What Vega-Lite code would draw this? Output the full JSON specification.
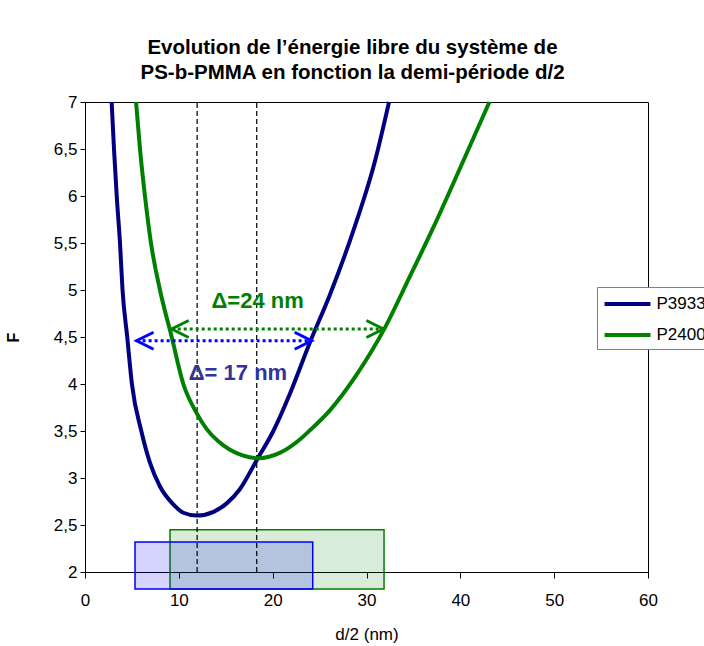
{
  "$schema": "https://vega.github.io/schema/vega-lite/v6.json",
  "width": 563,
  "height": 470,
  "autosize": {"type": "none"},
  "padding": {"left": 85, "top": 102, "right": 56, "bottom": 74},
  "background": "white",
  "title": {
    "text": ["Evolution de l’énergie libre du système de", "PS-b-PMMA en fonction la demi-période d/2"],
    "font": "Liberation Sans",
    "fontSize": 20.5,
    "fontWeight": "bold",
    "color": "#000000",
    "anchor": "middle",
    "frame": "group",
    "dx": -14,
    "offset": 10,
    "lineHeight": 25
  },
  "config": {
    "view": {"stroke": "#000000", "strokeWidth": 1},
    "axis": {
      "grid": false,
      "domainColor": "#000000",
      "tickColor": "#000000",
      "labelColor": "#000000",
      "titleColor": "#000000",
      "labelFont": "Liberation Sans",
      "titleFont": "Liberation Sans",
      "labelFontSize": 17,
      "labelFlush": false,
      "labelOverlap": false
    }
  },
  "datasets": {
    "curves": [
      {"series": "P3933", "x": 2.84, "y": 7.0},
      {"series": "P3933", "x": 3.09, "y": 6.5},
      {"series": "P3933", "x": 3.38, "y": 6.0},
      {"series": "P3933", "x": 3.73, "y": 5.5},
      {"series": "P3933", "x": 4.0, "y": 5.0},
      {"series": "P3933", "x": 4.5, "y": 4.5},
      {"series": "P3933", "x": 5.0, "y": 4.0},
      {"series": "P3933", "x": 6.0, "y": 3.5},
      {"series": "P3933", "x": 6.93, "y": 3.16},
      {"series": "P3933", "x": 7.99, "y": 2.91},
      {"series": "P3933", "x": 9.41, "y": 2.72},
      {"series": "P3933", "x": 10.48, "y": 2.63},
      {"series": "P3933", "x": 11.9, "y": 2.6},
      {"series": "P3933", "x": 13.7, "y": 2.64},
      {"series": "P3933", "x": 15.1, "y": 2.73},
      {"series": "P3933", "x": 16.5, "y": 2.88},
      {"series": "P3933", "x": 18.3, "y": 3.19},
      {"series": "P3933", "x": 20.07, "y": 3.5},
      {"series": "P3933", "x": 21.85, "y": 3.9},
      {"series": "P3933", "x": 24.0, "y": 4.45},
      {"series": "P3933", "x": 26.1, "y": 4.95},
      {"series": "P3933", "x": 28.7, "y": 5.66},
      {"series": "P3933", "x": 30.9, "y": 6.37},
      {"series": "P3933", "x": 32.4, "y": 7.0},
      {"series": "P2400", "x": 5.44, "y": 7.0},
      {"series": "P2400", "x": 5.86, "y": 6.5},
      {"series": "P2400", "x": 6.39, "y": 6.0},
      {"series": "P2400", "x": 7.03, "y": 5.5},
      {"series": "P2400", "x": 7.99, "y": 5.0},
      {"series": "P2400", "x": 9.24, "y": 4.5},
      {"series": "P2400", "x": 10.48, "y": 4.0},
      {"series": "P2400", "x": 11.9, "y": 3.69},
      {"series": "P2400", "x": 12.97, "y": 3.52},
      {"series": "P2400", "x": 14.2, "y": 3.39},
      {"series": "P2400", "x": 15.45, "y": 3.3},
      {"series": "P2400", "x": 16.8, "y": 3.24},
      {"series": "P2400", "x": 18.5, "y": 3.21},
      {"series": "P2400", "x": 20.8, "y": 3.27},
      {"series": "P2400", "x": 22.9, "y": 3.41},
      {"series": "P2400", "x": 24.0, "y": 3.51},
      {"series": "P2400", "x": 26.1, "y": 3.72},
      {"series": "P2400", "x": 28.95, "y": 4.1},
      {"series": "P2400", "x": 31.97, "y": 4.6},
      {"series": "P2400", "x": 34.46, "y": 5.11},
      {"series": "P2400", "x": 37.1, "y": 5.66},
      {"series": "P2400", "x": 40.3, "y": 6.37},
      {"series": "P2400", "x": 43.1, "y": 7.0}
    ],
    "rects": [
      {"series": "P2400", "x": 9.06, "x2": 31.87, "y": 2.45, "y2": 1.82},
      {"series": "P3933", "x": 5.33, "x2": 24.27, "y": 2.32, "y2": 1.82}
    ],
    "vlines": [
      {"x": 11.95, "y": 2, "y2": 7},
      {"x": 18.3, "y": 2, "y2": 7}
    ],
    "arrows": [
      {"series": "P2400", "x": 9.24, "x2": 31.8, "y": 4.585},
      {"series": "P3933", "x": 5.5, "x2": 24.15, "y": 4.46}
    ],
    "heads": [
      {"series": "P2400", "side": "left", "x": 9.24, "y": 4.585},
      {"series": "P2400", "side": "right", "x": 31.8, "y": 4.585},
      {"series": "P3933", "side": "left", "x": 5.5, "y": 4.46},
      {"series": "P3933", "side": "right", "x": 24.15, "y": 4.46}
    ],
    "labels": [
      {"series": "P2400", "x": 18.4, "y": 4.88, "label": "Δ=24 nm"},
      {"series": "P3933", "x": 16.3, "y": 4.12, "label": "Δ= 17 nm"}
    ]
  },
  "encoding": {
    "x": {
      "field": "x",
      "type": "quantitative",
      "scale": {"domain": [0, 60], "nice": false, "zero": false},
      "axis": {
        "values": [0, 10, 20, 30, 40, 50, 60],
        "tickSize": 6,
        "labelPadding": 14,
        "title": "d/2 (nm)",
        "titleFontSize": 17,
        "titleFontWeight": "normal",
        "titlePadding": 18
      }
    },
    "y": {
      "field": "y",
      "type": "quantitative",
      "scale": {"domain": [2, 7], "nice": false, "zero": false},
      "axis": {
        "values": [2, 2.5, 3, 3.5, 4, 4.5, 5, 5.5, 6, 6.5, 7],
        "tickSize": 5,
        "labelPadding": 3,
        "labelExpr": "replace(format(datum.value, '~g'), '.', ',')",
        "title": "F",
        "titleFontSize": 16,
        "titleFontWeight": "bold",
        "titlePadding": 32
      }
    }
  },
  "layer": [
    {
      "data": {"name": "rects"},
      "transform": [{"filter": "datum.series === 'P2400'"}],
      "mark": {"type": "rect", "fill": "#008000", "fillOpacity": 0.15, "stroke": "#008000", "strokeWidth": 1.5},
      "encoding": {"x2": {"field": "x2"}, "y2": {"field": "y2"}}
    },
    {
      "data": {"name": "rects"},
      "transform": [{"filter": "datum.series === 'P3933'"}],
      "mark": {"type": "rect", "fill": "#0000FF", "fillOpacity": 0.17, "stroke": "#0000FF", "strokeWidth": 1.5},
      "encoding": {"x2": {"field": "x2"}, "y2": {"field": "y2"}}
    },
    {
      "data": {"name": "vlines"},
      "mark": {"type": "rule", "color": "#000000", "strokeWidth": 1.2, "strokeDash": [5, 3]},
      "encoding": {"y2": {"field": "y2"}}
    },
    {
      "data": {"name": "curves"},
      "mark": {"type": "line", "strokeWidth": 4, "interpolate": "monotone"},
      "encoding": {
        "color": {
          "field": "series",
          "type": "nominal",
          "scale": {"domain": ["P3933", "P2400"], "range": ["#000080", "#008000"]},
          "legend": {
            "orient": "none",
            "legendX": 512,
            "legendY": 185,
            "title": null,
            "symbolType": "M-2.55,0L2.55,0",
            "symbolStrokeWidth": 4,
            "symbolSize": 324,
            "symbolOffset": 13.5,
            "labelFont": "Liberation Sans",
            "labelFontSize": 17,
            "labelColor": "#000000",
            "labelOffset": 18,
            "strokeColor": "#808080",
            "fillColor": "#ffffff",
            "padding": 6,
            "rowPadding": 12
          }
        }
      }
    },
    {
      "data": {"name": "arrows"},
      "transform": [{"filter": "datum.series === 'P2400'"}],
      "mark": {"type": "rule", "color": "#008000", "strokeWidth": 3, "strokeDash": [3, 3]},
      "encoding": {"x2": {"field": "x2"}}
    },
    {
      "data": {"name": "arrows"},
      "transform": [{"filter": "datum.series === 'P3933'"}],
      "mark": {"type": "rule", "color": "#0000FF", "strokeWidth": 3, "strokeDash": [3, 3]},
      "encoding": {"x2": {"field": "x2"}}
    },
    {
      "data": {"name": "heads"},
      "transform": [{"filter": "datum.series === 'P2400' && datum.side === 'left'"}],
      "mark": {"type": "point", "shape": "M2,-1L0,0L2,1", "size": 289, "filled": false, "stroke": "#008000", "strokeWidth": 3, "opacity": 1}
    },
    {
      "data": {"name": "heads"},
      "transform": [{"filter": "datum.series === 'P2400' && datum.side === 'right'"}],
      "mark": {"type": "point", "shape": "M-2,-1L0,0L-2,1", "size": 289, "filled": false, "stroke": "#008000", "strokeWidth": 3, "opacity": 1}
    },
    {
      "data": {"name": "heads"},
      "transform": [{"filter": "datum.series === 'P3933' && datum.side === 'left'"}],
      "mark": {"type": "point", "shape": "M2,-1L0,0L2,1", "size": 289, "filled": false, "stroke": "#0000FF", "strokeWidth": 3, "opacity": 1}
    },
    {
      "data": {"name": "heads"},
      "transform": [{"filter": "datum.series === 'P3933' && datum.side === 'right'"}],
      "mark": {"type": "point", "shape": "M-2,-1L0,0L-2,1", "size": 289, "filled": false, "stroke": "#0000FF", "strokeWidth": 3, "opacity": 1}
    },
    {
      "data": {"name": "labels"},
      "transform": [{"filter": "datum.series === 'P2400'"}],
      "mark": {"type": "text", "font": "Liberation Sans", "fontSize": 22, "fontWeight": "bold", "color": "#008000", "align": "center", "baseline": "middle"},
      "encoding": {"text": {"field": "label"}}
    },
    {
      "data": {"name": "labels"},
      "transform": [{"filter": "datum.series === 'P3933'"}],
      "mark": {"type": "text", "font": "Liberation Sans", "fontSize": 22, "fontWeight": "bold", "color": "#333399", "align": "center", "baseline": "middle"},
      "encoding": {"text": {"field": "label"}}
    }
  ]
}
